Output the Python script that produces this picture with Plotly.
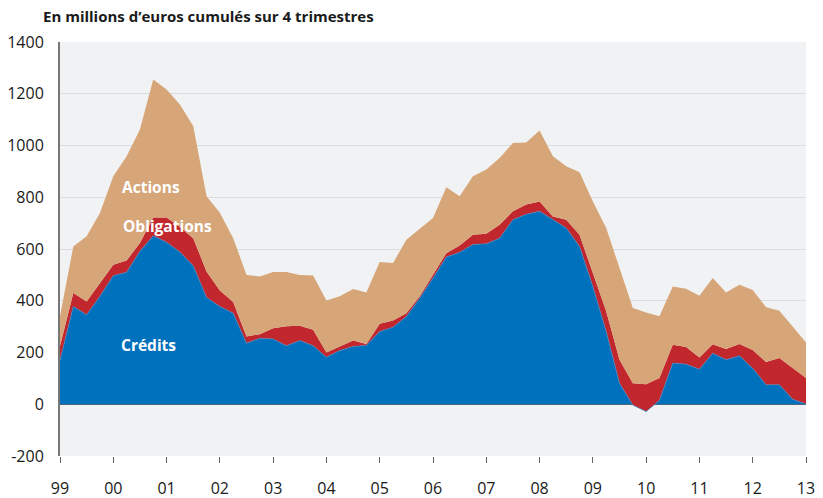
import plotly.graph_objects as go

# --- Data (quarterly, 1999Q1 -> 2013Q1), in millions of euros ---
quarters = [1999 + i / 4 for i in range(57)]

credits = [170, 378, 346, 417, 497, 510, 591, 651, 626, 588, 535, 413, 378, 352, 236, 255,
           252, 226, 246, 226, 182, 208, 223, 228, 281, 298, 339, 410, 488, 569, 587, 617,
           620, 642, 713, 734, 746, 713, 681, 610, 455, 281, 81, -3, -28, 15, 159, 155,
           135, 197, 172, 187, 139, 75, 75, 19, 1]
obligations = [55, 52, 51, 51, 42, 46, 32, 71, 96, 97, 107, 100, 62, 43, 26, 16,
               42, 75, 57, 62, 18, 15, 23, 5, 30, 26, 13, 7, 10, 15, 27, 38,
               39, 52, 33, 38, 38, 13, 32, 45, 52, 78, 91, 84, 105, 86, 71, 66,
               46, 35, 42, 46, 71, 88, 104, 120, 100]
actions = [115, 180, 252, 271, 342, 402, 439, 533, 494, 473, 433, 291, 300, 247, 238, 223,
           217, 210, 197, 210, 201, 194, 199, 199, 239, 222, 284, 260, 222, 255, 190, 226,
           248, 258, 264, 240, 274, 232, 207, 242, 277, 322, 354, 291, 278, 239, 225, 225,
           238, 256, 218, 229, 232, 212, 182, 162, 138]

year_ticks = list(range(1999, 2014))
year_labels = ["99", "00", "01", "02", "03", "04", "05", "06", "07", "08", "09",
               "10", "11", "12", "13"]
y_ticks = [-200, 0, 200, 400, 600, 800, 1000, 1200, 1400]
y_labels = ["-200", "0", "200", "400", "600", "800", "1000", "1200", "1400"]

BLUE = "#0071bc"
RED = "#c1272d"
TAN = "#d6a578"
FONT = "Open Sans"

# page body has an 8px margin, so the figure is drawn 8px smaller and offset
W, H, OFF = 823 - 8, 498 - 8, 8

fig = go.Figure()
fig.add_trace(go.Scatter(x=quarters, y=credits, name="Crédits", stackgroup="s",
                         mode="lines", line=dict(width=0.6, color="#3d8fd0"),
                         fillcolor=BLUE))
fig.add_trace(go.Scatter(x=quarters, y=obligations, name="Obligations", stackgroup="s",
                         mode="lines", line=dict(width=0, color=RED), fillcolor=RED))
fig.add_trace(go.Scatter(x=quarters, y=actions, name="Actions", stackgroup="s",
                         mode="lines", line=dict(width=0, color=TAN), fillcolor=TAN))

# series labels inside the areas
for txt, x, y in [("Actions", 2000.71, 840), ("Obligations", 2001.01, 688),
                  ("Crédits", 2000.67, 230)]:
    fig.add_annotation(x=x, y=y, xref="x", yref="y", text=f"<b>{txt}</b>",
                       showarrow=False, font=dict(family=FONT, size=15.5, color="white"))

fig.update_xaxes(range=[1999, 2013], tickvals=year_ticks, ticktext=year_labels,
                 showgrid=False, zeroline=False, ticks="outside", ticklen=6,
                 tickcolor="#666", tickwidth=1, ticklabelstandoff=12,
                 showline=False, automargin=False,
                 tickfont=dict(family=FONT, size=16, color="#1a1a1a"))
fig.update_yaxes(range=[-200, 1400], tickvals=y_ticks, ticktext=y_labels,
                 showgrid=True, gridcolor="#dcdde1",
                 gridwidth=1, zeroline=True, zerolinecolor="#646464", zerolinewidth=2,
                 showline=True, linecolor="#777", linewidth=2, ticks="",
                 ticklabelstandoff=11, automargin=False,
                 tickfont=dict(family=FONT, size=16, color="#1a1a1a"))

fig.update_layout(
    width=W, height=H,
    margin=dict(l=60 - OFF, r=17, t=42 - OFF, b=42),
    plot_bgcolor="#f1f2f4", paper_bgcolor="white",
    showlegend=False,
    title=dict(text="<b>En millions d’euros cumulés sur 4 trimestres</b>",
               x=(43 - OFF) / W, xanchor="left", xref="container",
               y=1 - (17 - OFF) / H, yanchor="middle", yref="container",
               font=dict(family=FONT, size=15, color="#1a1a1a"),
               automargin=False),
)

fig.write_html("out.html")
